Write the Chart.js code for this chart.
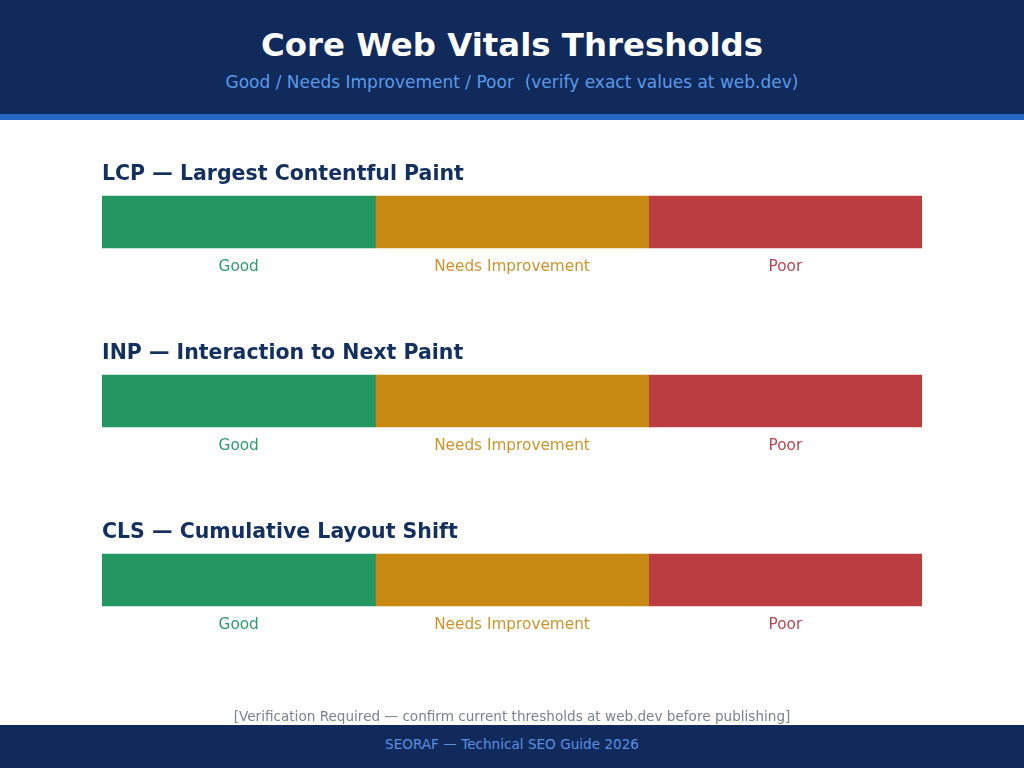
<!DOCTYPE html>
<html>
<head>
<meta charset="utf-8">
<script src="https://cdn.jsdelivr.net/npm/chart.js@4/dist/chart.umd.min.js"></script>
<style>
  html, body { margin: 0; padding: 0; width: 1024px; height: 768px; background: #ffffff; overflow: hidden; font-family: "DejaVu Sans", sans-serif; }
  #header { position: absolute; left: 0; top: 0; width: 1024px; height: 114px; background: #112a5c; }
  #stripe { position: absolute; left: 0; top: 114px; width: 1024px; height: 6px; background: #2566c4; }
  #title { position: absolute; left: 0; width: 1024px; top: 25px; text-align: center; color: #ffffff; font-weight: bold; font-size: 32.4px; line-height: 40px; }
  #subtitle { position: absolute; left: 0; width: 1024px; top: 72px; text-align: center; color: #5c9ae8; font-size: 17px; line-height: 21px; white-space: pre; }
  #note { position: absolute; left: 0; width: 1024px; top: 707px; text-align: center; color: #7b828c; font-size: 13.6px; line-height: 18px; }
  #footer { position: absolute; left: 0; top: 725px; width: 1024px; height: 43px; background: #112a5c; }
  #footText { position: absolute; left: 0; width: 1024px; top: 735px; text-align: center; color: #5c8fe0; font-size: 13.6px; line-height: 18px; }
  #wrap { position: absolute; left: 0; top: 120px; width: 1024px; height: 605px; }
</style>
</head>
<body>
<div id="header"></div>
<div id="stripe"></div>
<div id="title">Core Web Vitals Thresholds</div>
<div id="subtitle">Good / Needs Improvement / Poor  (verify exact values at web.dev)</div>
<div id="wrap"><canvas id="c" width="1024" height="605"></canvas></div>
<div id="note">[Verification Required — confirm current thresholds at web.dev before publishing]</div>
<div id="footer"></div>
<div id="footText">SEORAF — Technical SEO Guide 2026</div>
<script>
// Data
const metrics = ["LCP", "INP", "CLS"];
const metricTitles = ["LCP — Largest Contentful Paint", "INP — Interaction to Next Paint", "CLS — Cumulative Layout Shift"];
const bandNames = ["Good", "Needs Improvement", "Poor"];
const goodShare = [1, 1, 1];
const needsShare = [1, 1, 1];
const poorShare = [1, 1, 1];
const bandColors = ["#239662", "#c98a14", "#bc3d3f"];
const labelColors = ["#2f9a6b", "#c9952c", "#b84452"];

const labelPlugin = {
  id: "bandLabels",
  afterDatasetsDraw(chart) {
    const ctx = chart.ctx;
    const yScale = chart.scales.y;
    const area = chart.chartArea;
    ctx.save();
    metrics.forEach((m, i) => {
      const yc = yScale.getPixelForValue(i);
      const top = yc - 26;
      const bottom = yc + 26;
      ctx.font = "bold 20.5px 'DejaVu Sans'";
      ctx.fillStyle = "#14305f";
      ctx.textAlign = "left";
      ctx.textBaseline = "middle";
      ctx.fillText(metricTitles[i], area.left, top - 21);
      ctx.font = "15.3px 'DejaVu Sans'";
      ctx.textAlign = "center";
      chart.data.datasets.forEach((ds, d) => {
        const el = chart.getDatasetMeta(d).data[i];
        const x0 = el.base, x1 = el.x;
        ctx.fillStyle = labelColors[d];
        ctx.fillText(bandNames[d], (x0 + x1) / 2, bottom + 19);
      });
    });
    ctx.restore();
  }
};

new Chart(document.getElementById("c"), {
  type: "bar",
  data: {
    labels: metrics,
    datasets: [
      { label: bandNames[0], data: goodShare, backgroundColor: bandColors[0] },
      { label: bandNames[1], data: needsShare, backgroundColor: bandColors[1] },
      { label: bandNames[2], data: poorShare, backgroundColor: bandColors[2] }
    ]
  },
  options: {
    indexAxis: "y",
    responsive: false,
    animation: false,
    layout: { padding: { left: 102, right: 102, top: 12.5, bottom: 55.5 } },
    datasets: { bar: { barThickness: 52, borderWidth: 0 } },
    scales: {
      x: { stacked: true, min: 0, max: 3, display: false },
      y: { stacked: true, display: false }
    },
    plugins: { legend: { display: false }, tooltip: { enabled: false } }
  },
  plugins: [labelPlugin]
});
</script>
</body>
</html>
